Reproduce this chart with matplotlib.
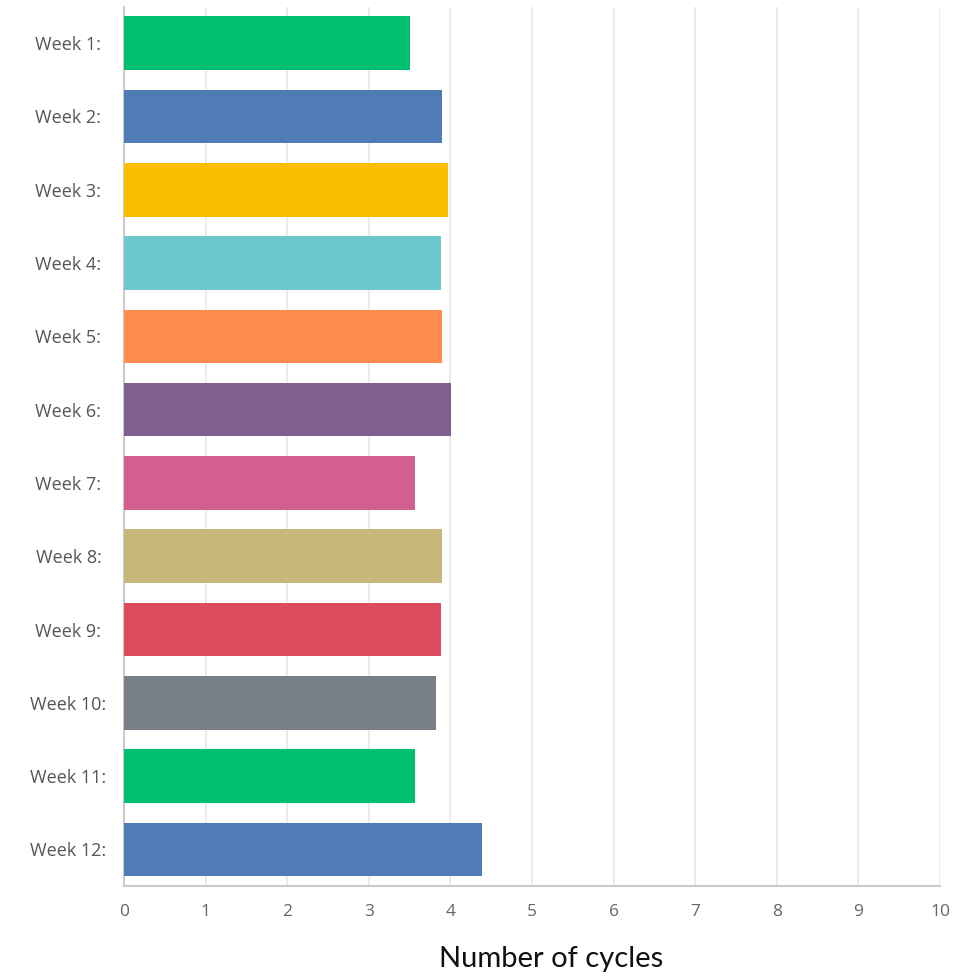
import matplotlib
matplotlib.use("Agg")
import matplotlib.pyplot as plt

weeks = ["Week 1:", "Week 2:", "Week 3:", "Week 4:", "Week 5:", "Week 6:",
         "Week 7:", "Week 8:", "Week 9:", "Week 10:", "Week 11:", "Week 12:"]
cycles = [3.50, 3.90, 3.97, 3.88, 3.90, 4.01, 3.56, 3.90, 3.88, 3.82, 3.56, 4.39]
bar_colors = ["#00BF6F", "#507CB6", "#F9BE00", "#6BC8CD", "#FF8B4F", "#7F5F90",
              "#D25F90", "#C7B879", "#DB4D5C", "#787F87", "#00BF6F", "#507CB6"]
x_ticks = list(range(0, 11))

fig = plt.figure(figsize=(9.68, 9.77), dpi=100)
ax = fig.add_axes([0.1281, 0.0931, 0.8430, 0.9002])

pos = list(range(len(weeks)))
ax.barh(pos, cycles, height=0.73, color=bar_colors, zorder=3)

ax.set_ylim(len(weeks) - 0.5, -0.5)
ax.set_xlim(0, 10)
ax.set_yticks(pos)
ax.set_yticklabels(weeks, family="Open Sans", fontsize=13, color="#555555",
                   ha="center")
ax.set_xticks(x_ticks)
ax.set_xticklabels([str(t) for t in x_ticks], family="Open Sans", fontsize=12.5,
                   color="#666666")
ax.tick_params(axis="y", length=0, pad=40)
ax.tick_params(axis="x", length=0, pad=13)

ax.grid(axis="x", color="#e8e8e8", linewidth=1.2, zorder=0)
for side in ("top", "right"):
    ax.spines[side].set_visible(False)
for side in ("left", "bottom"):
    ax.spines[side].set_color("#cccccc")
    ax.spines[side].set_linewidth(1.5)

ax.set_xlabel("Number of cycles", family="Lato", fontsize=21, color="#111111",
              va="center")
ax.xaxis.set_label_coords(0.523, -0.083)

fig.savefig("out.png", dpi=100)
